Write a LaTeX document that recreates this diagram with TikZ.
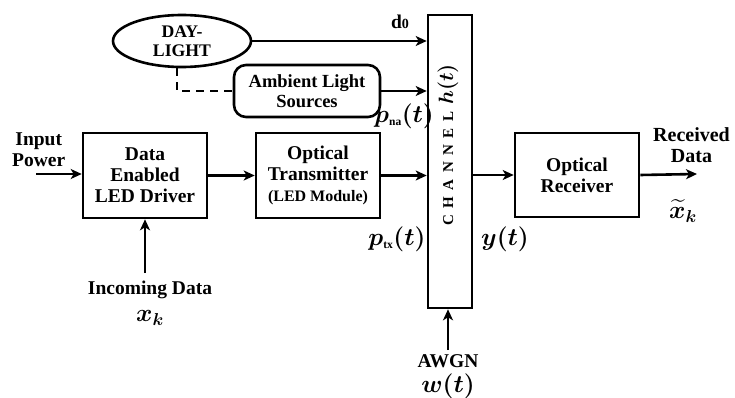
\documentclass[tikz,border=0pt]{standalone}
\usepackage{fontspec}
\setmainfont{Liberation Serif}
\usepackage{amsmath}
\usepackage{bm}
\usetikzlibrary{shapes.geometric,arrows.meta}
\newcommand{\mfont}{\fontsize{23}{23}\selectfont}
\begin{document}
\begin{tikzpicture}[x=1pt,y=-1pt,
  every node/.style={font=\bfseries\fontsize{19.5}{21}\selectfont},
  blk/.style={draw,line width=2.6pt,minimum width=124pt,minimum height=85pt,inner sep=0pt,align=center},
  arr/.style={line width=2.6pt,-{Stealth[length=11pt,width=10pt,inset=3pt]}},
  lbl/.style={inner sep=0pt,align=center},
  mlbl/.style={inner sep=0pt,font=\mfont}]
\useasboundingbox (0,0) rectangle (735,398);
% nodes
\node[draw,line width=2.6pt,ellipse,minimum width=138pt,minimum height=52pt,inner sep=0pt,align=center,
  font=\bfseries\fontsize{17.7}{19}\selectfont] (day) at (182,41) {DAY-\\LIGHT};
\node[draw,line width=2.6pt,rounded corners=12pt,minimum width=146pt,minimum height=52pt,inner sep=0pt,align=center,
  font=\bfseries\fontsize{18.5}{20}\selectfont] (amb) at (307,91) {Ambient Light\\Sources};
\node[draw,line width=2.6pt,minimum width=44pt,minimum height=293pt,inner sep=0pt] (chan) at (450,161.5) {};
\node[rotate=90,inner sep=0pt,font=\bfseries\fontsize{15}{15}\selectfont] (chantext) at (448,145)
  {C\hspace{6.5pt}H\hspace{6.5pt}A\hspace{6.5pt}N\hspace{6.5pt}N\hspace{6.5pt}E\hspace{6.5pt}L\hspace{7pt}{\fontsize{22}{22}\selectfont$\bm{h(t)}$}};
\node[blk] (drv) at (145,175.5) {Data\\Enabled\\LED Driver};
\node[blk] (tx) at (318,175.5) {Optical\\Transmitter\\{\fontsize{16}{18}\selectfont(LED Module)}};
\node[blk,minimum height=84pt] (rx) at (577,175) {Optical\\Receiver};
% labels
\node[lbl,anchor=west] (inp) at (12,150) {Input\\Power};
\node[lbl] (inc) at (150,290) {Incoming Data};
\node[mlbl] (xk) at (150,318) {$\bm{x_k}$};
\node[lbl,anchor=west,font=\bfseries\fontsize{20}{21}\selectfont] (rcv) at (653,145) {Received\\Data};
\node[mlbl] (xtk) at (683,211) {$\widetilde{\bm{x}}_{\bm{k}}$};
\node[lbl] (awgn) at (448,361) {AWGN};
\node[mlbl] (wt) at (448,386) {$\bm{w(t)}$};
\node[mlbl] (pna) at (404,116) {$\bm{p}_{\scriptscriptstyle\mathbf{na}}\bm{(t)}$};
\node[mlbl] (ptx) at (397,239) {$\bm{p}_{\scriptscriptstyle\mathbf{tx}}\bm{(t)}$};
\node[mlbl] (yt) at (505,239) {$\bm{y(t)}$};
\node[lbl] (d0) at (400,22) {d{\fontsize{14}{14}\selectfont 0}};
% coordinates
\coordinate (pin) at (36,174);
\coordinate (din) at (145,273);
\coordinate (nin) at (448,350);
\coordinate (out) at (697,174);
% connectors
\draw[arr] (day.east) -- (day.east -| chan.west);
\draw[line width=2.6pt,dash pattern=on 8pt off 6pt] ([xshift=-5pt]day.south) |- (amb.west);
\draw[arr] (amb.east) -- (amb.east -| chan.west);
\draw[arr] (pin) -- (pin -| drv.west);
\draw[arr] (din) -- (drv.south);
\draw[arr] (drv.east) -- (tx.west);
\draw[arr] (tx.east) -- (tx.east -| chan.west);
\draw[arr] (chan.east |- rx.west) -- (rx.west);
\draw[arr] (rx.east) -- (out);
\draw[arr] (nin) -- (nin |- chan.south);
\end{tikzpicture}
\end{document}
